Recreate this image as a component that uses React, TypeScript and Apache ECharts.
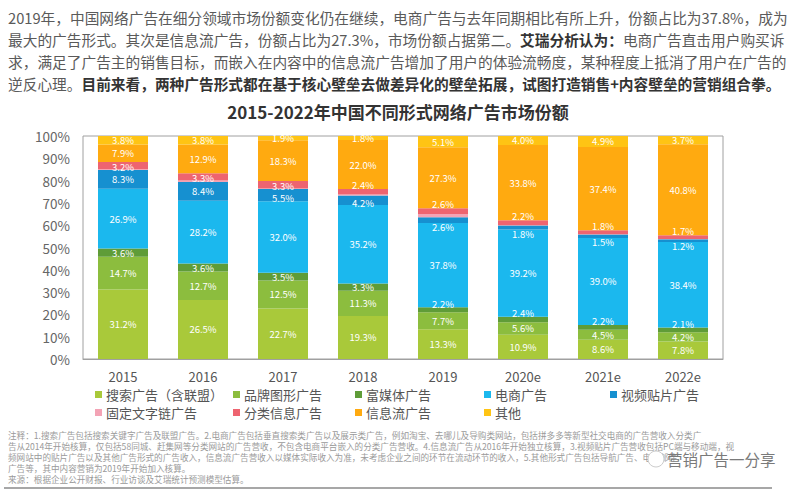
import React, { useEffect, useRef } from 'react';
import * as echarts from 'echarts';

const categories = ['2015', '2016', '2017', '2018', '2019', '2020e', '2021e', '2022e'];

const seriesNames = [
  '搜索广告（含联盟）',
  '品牌图形广告',
  '富媒体广告',
  '电商广告',
  '视频贴片广告',
  '固定文字链广告',
  '分类信息广告',
  '信息流广告',
  '其他',
];

const searchAds = [31.2, 26.5, 22.7, 19.3, 13.3, 10.9, 8.6, 7.8];
const brandAds = [14.7, 12.7, 12.5, 11.3, 7.7, 5.6, 4.5, 4.2];
const richMediaAds = [3.6, 3.6, 3.5, 3.3, 2.2, 2.4, 2.2, 2.1];
const ecommerceAds = [26.9, 28.2, 32.0, 35.2, 37.8, 39.2, 39.0, 38.4];
const videoAds = [8.3, 8.4, 5.5, 4.2, 2.6, 1.8, 1.5, 1.2];
const textLinkAds = [0.4, 0.6, 0.3, 0.5, 1.4, 0.1, 0.1, 0.1];
const classifiedAds = [3.2, 3.3, 3.3, 2.4, 2.6, 2.2, 1.8, 1.7];
const feedAds = [7.9, 12.9, 18.3, 22.0, 27.3, 33.8, 37.4, 40.8];
const otherAds = [3.8, 3.8, 1.9, 1.8, 5.1, 4.0, 4.9, 3.7];

const seriesData = [
  searchAds, brandAds, richMediaAds, ecommerceAds, videoAds,
  textLinkAds, classifiedAds, feedAds, otherAds,
];

const colors = [
  '#a9c93a', '#8cbd3e', '#5f9c38', '#1bb8ee', '#1690d0',
  '#f3a3b5', '#ee6470', '#ffaa10', '#ffc414',
];

const showLabel = [true, true, true, true, true, false, true, true, true];

const paragraphLines = [
  '2019年，中国网络广告在细分领域市场份额变化仍在继续，电商广告与去年同期相比有所上升，份额占比为37.8%，成为',
  '最大的广告形式。其次是信息流广告，份额占比为27.3%，市场份额占据第二。{b|艾瑞分析认为：}电商广告直击用户购买诉',
  '求，满足了广告主的销售目标，而嵌入在内容中的信息流广告增加了用户的体验流畅度，某种程度上抵消了用户在广告的',
  '逆反心理。{b|目前来看，两种广告形式都在基于核心壁垒去做差异化的壁垒拓展，试图打造销售+内容壁垒的营销组合拳。}',
];

const title = '2015-2022年中国不同形式网络广告市场份额';

const noteLines = [
  '注释：1.搜索广告包括搜索关键字广告及联盟广告。2.电商广告包括垂直搜索类广告以及展示类广告，例如淘宝、去哪儿及导购类网站，包括拼多多等新型社交电商的广告营收入分类广',
  '告从2014年开始核算，仅包括58同城、赶集网等分类网站的广告营收，不包含电商平台嵌入的分类广告营收。4.信息流广告从2016年开始独立核算，3.视频贴片广告营收包括PC端与移动端，视',
  '频网站中的贴片广告以及其他广告形式的广告收入，信息流广告营收入以媒体实际收入为准，未考虑企业之间的环节在流动环节的收入，5.其他形式广告包括导航广告、电子邮件',
  '广告等，其中内容营销为2019年开始加入核算。',
  '来源：根据企业公开财报、行业访谈及艾瑞统计预测模型估算。',
];

const FONT = '"Noto Sans CJK SC", "Noto Sans", sans-serif';

// label placement for thin segments
function labelFor(seriesIdx: number, value: number): any {
  if (seriesIdx === 2 && value < 3) return { position: 'top', distance: -1 };
  if (seriesIdx === 4 && value < 3) return { position: 'bottom', distance: 0 };
  if (seriesIdx === 4 && value < 6) return { offset: [0, 3] };
  if (seriesIdx === 6 && value < 3) return { position: 'top', distance: 0 };
  if (seriesIdx === 6) return { offset: [0, 1] };
  return undefined;
}

export default function App() {
  const ref = useRef<HTMLDivElement>(null);

  useEffect(() => {
    if (!ref.current) return;
    const chart = echarts.init(ref.current, undefined, { renderer: 'svg' });

    const legendPos: [number, number][] = [
      [95, 388], [233, 388], [355, 388], [484, 388], [610, 388],
      [95, 406], [233, 406], [355, 406], [484, 406],
    ];

    const graphics: any[] = [];
    paragraphLines.forEach((line, i) => {
      graphics.push({
        type: 'text',
        x: 8,
        y: 17 + i * 22.3,
        silent: true,
        style: {
          text: line,
          fill: '#5a5a5a',
          fontFamily: FONT,
          fontSize: 14.7,
          verticalAlign: 'middle',
          align: 'left',
          rich: {
            b: {
              fontWeight: 'bold',
              fontSize: 14.7,
              fontFamily: FONT,
              fill: '#333333',
            },
          },
        },
      });
    });
    graphics.push({
      type: 'text',
      x: 398,
      y: 111,
      silent: true,
      style: {
        text: title,
        fill: '#333333',
        fontFamily: FONT,
        fontSize: 17,
        fontWeight: 'bold',
        align: 'center',
        verticalAlign: 'middle',
      },
    });
    noteLines.forEach((line, i) => {
      graphics.push({
        type: 'text',
        x: 8,
        y: 435 + i * 11,
        silent: true,
        style: {
          text: line,
          fill: '#9a9a9a',
          fontFamily: FONT,
          fontSize: 8.6,
          lineHeight: 9,
          align: 'left',
          verticalAlign: 'middle',
        },
      });
    });
    graphics.push({
      type: 'line',
      silent: true,
      shape: { x1: 4, y1: 488, x2: 772, y2: 488 },
      style: { stroke: '#8a8a8a', lineWidth: 1.5 },
    });
    graphics.push({
      type: 'circle',
      silent: true,
      shape: { cx: 656, cy: 459, r: 8 },
      style: { fill: '#ffffff', stroke: '#cccccc', lineWidth: 1 },
    });
    graphics.push({
      type: 'text',
      x: 667,
      y: 459,
      silent: true,
      style: {
        text: '营销广告一分享',
        fill: '#7a7a7a',
        fontFamily: FONT,
        fontSize: 15.5,
        align: 'left',
        verticalAlign: 'middle',
      },
    });

    chart.setOption({
      animation: false,
      backgroundColor: '#ffffff',
      color: colors,
      textStyle: { fontFamily: FONT },
      grid: {
        left: 83,
        right: 77,
        top: 136,
        bottom: 131,
        show: true,
        borderColor: '#a0a0a0',
        borderWidth: 1,
      },
      legend: seriesNames.map((name, i) => ({
        data: [name],
        left: legendPos[i][0],
        top: legendPos[i][1],
        icon: 'rect',
        itemWidth: 7,
        itemHeight: 7,
        itemGap: 0,
        padding: 0,
        selectedMode: false,
        textStyle: { color: '#555555', fontSize: 13, fontFamily: FONT, padding: [0, 0, 0, -1] },
      })),
      xAxis: {
        type: 'category',
        data: categories,
        axisTick: { show: false },
        axisLine: { lineStyle: { color: '#a0a0a0' } },
        axisLabel: { color: '#555555', fontSize: 13, margin: 11, fontFamily: FONT },
      },
      yAxis: {
        type: 'value',
        min: 0,
        max: 100,
        interval: 10,
        splitLine: { show: false },
        axisLine: { show: false },
        axisTick: { show: false },
        axisLabel: { formatter: '{value}%', color: '#666666', fontSize: 13.5, margin: 13, fontFamily: FONT },
      },
      series: seriesNames.map((name, i) => ({
        name,
        type: 'bar',
        stack: 'total',
        barWidth: 50,
        data: seriesData[i].map((v) => {
          const lab = labelFor(i, v);
          return lab ? { value: v, label: lab } : v;
        }),
        itemStyle: { color: colors[i] },
        label: {
          show: showLabel[i],
          position: 'inside',
          color: '#ffffff',
          fontSize: 9.5,
          lineHeight: 9,
          fontFamily: FONT,
          formatter: (p: any) => `${Number(p.value).toFixed(1)}%`,
        },
      })),
      graphic: graphics,
    });

    return () => chart.dispose();
  }, []);

  return (
    <div
      ref={ref}
      style={{ position: 'fixed', left: 0, top: 0, width: 800, height: 490, background: '#fff' }}
    />
  );
}
